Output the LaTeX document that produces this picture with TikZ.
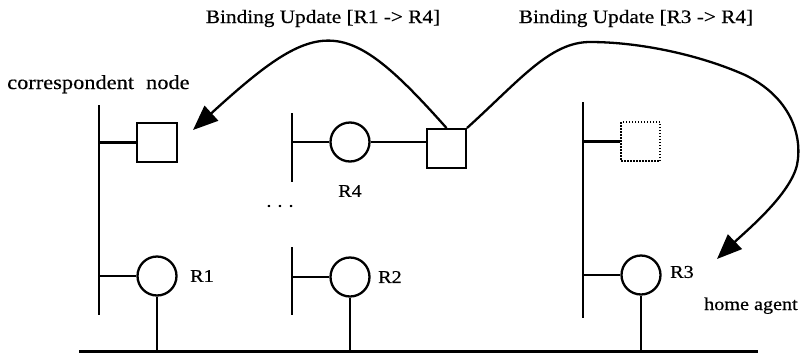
\documentclass[tikz,border=0pt]{standalone}
\usepackage{fontspec}
\setmainfont[FakeStretch=1.12,FakeBold=0.5]{Liberation Serif}
\usetikzlibrary{arrows.meta}
\begin{document}
\begin{tikzpicture}[x=1pt,y=-1pt,
  wire/.style={line width=2.3pt},
  bus/.style={line width=2.8pt},
  ground/.style={line width=3pt},
  router/.style={circle,draw,line width=2.3pt,minimum size=39pt,inner sep=0pt},
  host/.style={rectangle,draw,line width=2pt,minimum width=40pt,minimum height=39pt,inner sep=0pt},
  ghost/.style={rectangle,draw,line width=1.6pt,dash pattern=on 1.5pt off 1.5pt,minimum width=39pt,minimum height=39pt,inner sep=0pt},
  lbl/.style={font=\fontsize{19}{22}\selectfont,inner sep=0pt},
  cnfont/.style={font=\fontsize{20}{24}\selectfont,inner sep=0pt},
  hafont/.style={font=\fontsize{18}{22}\selectfont,inner sep=0pt},
  rlbl/.style={font=\fontsize{18}{21}\selectfont,inner sep=0pt},
  bu/.style={line width=2.3pt,-{Triangle[length=25pt,width=20pt]}}
]
\useasboundingbox (0,0) rectangle (806,354);

% bus ends
\coordinate (b1t) at (99,105);  \coordinate (b1b) at (99,315);
\coordinate (b4t) at (292,113); \coordinate (b4b) at (292,182);
\coordinate (b2t) at (292,247); \coordinate (b2b) at (292,315);
\coordinate (b3t) at (583,102); \coordinate (b3b) at (583,318);
\coordinate (gl) at (79,351);   \coordinate (gr) at (758,351);
\coordinate (cntip) at (193,130);
\coordinate (hatip) at (717,259);

% nodes
\node[host] (cn) at (157,142.5) {};
\node[router] (r1) at (157,276) {};
\node[router] (r4) at (350,142) {};
\node[host,minimum width=39pt] (mn) at (446.5,148.5) {};
\node[router] (r2) at (350,277) {};
\node[ghost] (gh) at (640.5,141.5) {};
\node[router] (r3) at (641,275) {};

% buses
\draw[bus] (b1t) -- (b1b);
\draw[bus] (b4t) -- (b4b);
\draw[bus] (b2t) -- (b2b);
\draw[bus] (b3t) -- (b3b);
\draw[ground] (gl) -- (gr);

% attachments
\draw[wire] (b1t |- cn.west) -- (cn.west);
\draw[wire] (b1t |- r1.west) -- (r1.west);
\draw[wire] (b4t |- r4.west) -- (r4.west);
\draw[wire] (r4.east) -- (r4.east -| mn.west);
\draw[wire] (b2t |- r2.west) -- (r2.west);
\draw[wire] (b3t |- gh.west) -- (gh.west);
\draw[wire] (b3t |- r3.west) -- (r3.west);
\draw[wire] (r1.south) -- (r1.south |- gl);
\draw[wire] (r2.south) -- (r2.south |- gl);
\draw[wire] (r3.south) -- (r3.south |- gl);

% binding updates
\draw[bu] (mn.north) .. controls (345,14) and (320,14) .. (cntip);
\draw[bu] (mn.north east) .. controls (520,80) and (550,42) .. (590,42)
  .. controls (640,42) and (700,55) .. (745,75)
  .. controls (790,97) and (803,135) .. (797,165)
  .. controls (790,195) and (745,232) .. (hatip);

% labels
\node[lbl,anchor=base] (bu1) at (323,23) {Binding Update [R1 -> R4]};
\node[lbl,anchor=base] (bu2) at (636,23) {Binding Update [R3 -> R4]};
\node[cnfont,anchor=base west] (cnl) at (7,89) {correspondent\hspace{12pt}node};
\node[hafont,anchor=base west] (hal) at (704,310) {home agent};
\node[rlbl,anchor=west] (r1l) at (190,276) {R1};
\node[rlbl,anchor=west] (r2l) at (378,277) {R2};
\node[rlbl,anchor=west] (r3l) at (670,272) {R3};
\node[rlbl] (r4l) at (350,191) {R4};
\node[hafont] (dots) at (280,206) {.\hspace{6pt}.\hspace{6pt}.};
\end{tikzpicture}
\end{document}
